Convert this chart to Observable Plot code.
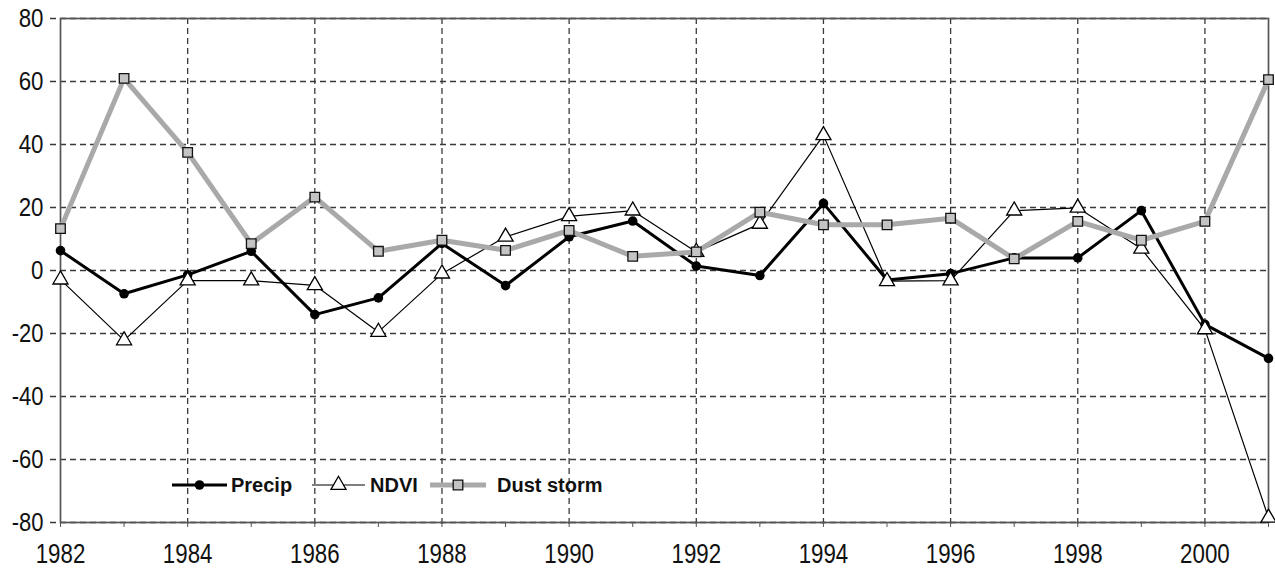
<!DOCTYPE html>
<html>
<head>
<meta charset="utf-8">
<script src="https://cdn.jsdelivr.net/npm/d3@7"></script>
<script src="https://cdn.jsdelivr.net/npm/@observablehq/plot@0.6"></script>
<style>
  body { margin: 0; background: #fff; }
  #chart { position: relative; width: 1275px; height: 569px; }
  #legend { position: absolute; left: 0; top: 0; pointer-events: none; }
</style>
</head>
<body>
<div id="chart"></div>
<script>
const years = [1982,1983,1984,1985,1986,1987,1988,1989,1990,1991,1992,1993,1994,1995,1996,1997,1998,1999,2000,2001];
const precip = [6.3,-7.4,-1.4,6.1,-14,-8.7,8.6,-4.8,10.7,15.7,1.4,-1.6,21.3,-3,-1,4,4,19,-17.1,-27.9];
const ndvi   = [-2.9,-22.2,-3.2,-3.2,-4.7,-19.5,-1,10.7,17.2,19,5.9,14.8,42.9,-3.4,-3.2,19,19.9,6.9,-18.7,-78.5];
const dust   = [13.3,61,37.5,8.5,23.3,6.1,9.6,6.4,12.7,4.5,5.9,18.5,14.5,14.5,16.6,3.7,15.6,9.6,15.6,60.6];
const seriesNames = ["Precip","NDVI","Dust storm"];
const xTickLabels = [1982,1984,1986,1988,1990,1992,1994,1996,1998,2000];
const yTicks = [-80,-60,-40,-20,0,20,40,60,80];

const rows = (vals) => years.map((y,i) => ({year: y, value: vals[i]}));
const P = rows(precip), N = rows(ndvi), D = rows(dust);

const gridColor = "#3a3a3a";
const tickFont = "'Liberation Sans Narrow','Arial Narrow','Liberation Sans',sans-serif";

const chart = Plot.plot({
  width: 1275,
  height: 569,
  marginLeft: 60,
  marginRight: 7,
  marginTop: 18,
  marginBottom: 47,
  style: {fontFamily: tickFont, background: "#fff", color: "#222"},
  x: {domain: [1982, 2001], axis: null},
  y: {domain: [-80, 80], axis: null},
  marks: [
    Plot.gridY(yTicks, {stroke: gridColor, strokeOpacity: 1, strokeDasharray: "6,4", strokeWidth: 1.3, insetLeft: -10}),
    Plot.gridX(xTickLabels.slice(1), {stroke: gridColor, strokeOpacity: 1, strokeDasharray: "6,4", strokeWidth: 1.3, insetBottom: -5}),
    Plot.frame({stroke: "#555", strokeWidth: 1.7}),
    Plot.axisX(years, {label: null, tickSize: 5, tickFormat: () => "", stroke: "#555"}),
    Plot.axisX(xTickLabels, {label: null, tickSize: 0, tickPadding: 21, tickFormat: d => String(d), fontSize: 27, fill: "#111"}),
    Plot.axisY(yTicks, {label: null, tickSize: 0, tickPadding: 17, tickFormat: d => String(d), fontSize: 26, fill: "#111"}),
    // Precip
    Plot.line(P, {x: "year", y: "value", stroke: "#000", strokeWidth: 3}),
    Plot.dot(P, {x: "year", y: "value", r: 4.8, fill: "#000", stroke: "none"}),
    // NDVI
    Plot.line(N, {x: "year", y: "value", stroke: "#000", strokeWidth: 1.2}),
    Plot.dot(N, {x: "year", y: "value", symbol: "triangle", r: 5.6, fill: "#fff", stroke: "#000", strokeWidth: 1.3}),
    // Dust storm
    Plot.line(D, {x: "year", y: "value", stroke: "#a9a9a9", strokeWidth: 5}),
    Plot.dot(D, {x: "year", y: "value", symbol: "square", r: 5.4, fill: "#c4c4c4", stroke: "#111", strokeWidth: 1.3})
  ]
});

const container = document.getElementById("chart");
container.appendChild(chart);

// Condense tick label glyphs to mimic the narrow font of the reference
d3.select(chart).selectAll("g[aria-label='x-axis tick label'] text, g[aria-label='y-axis tick label'] text").each(function() {
  const t = this.textContent;
  const w = this.getComputedTextLength();
  if (w > 0) {
    const target = t.replace(/[^0-9]/g, "").length * 12.4 + (t.includes("-") ? 7 : 0);
    this.setAttribute("textLength", target);
    this.setAttribute("lengthAdjust", "spacingAndGlyphs");
  }
});

// Legend overlay (inside plot area, as in the reference)
const leg = d3.select(container).append("svg")
  .attr("id", "legend").attr("width", 1275).attr("height", 569);
const ly = 485;
const items = [
  {name: seriesNames[0], x0: 172, x1: 227, stroke: "#000", sw: 3, sym: "circle", tx: 231},
  {name: seriesNames[1], x0: 312, x1: 365, stroke: "#000", sw: 1.2, sym: "triangle", tx: 370},
  {name: seriesNames[2], x0: 430, x1: 486, stroke: "#a9a9a9", sw: 5, sym: "square", tx: 497}
];
items.forEach(it => {
  const g = leg.append("g");
  g.append("line").attr("x1", it.x0).attr("x2", it.x1).attr("y1", ly).attr("y2", ly)
    .attr("stroke", it.stroke).attr("stroke-width", it.sw);
  const cx = (it.x0 + it.x1) / 2;
  if (it.sym === "circle") {
    g.append("circle").attr("cx", cx).attr("cy", ly).attr("r", 4.8).attr("fill", "#000");
  } else if (it.sym === "triangle") {
    g.append("path").attr("transform", `translate(${cx},${ly})`)
      .attr("d", d3.symbol(d3.symbolTriangle, 5.6*5.6*Math.PI)())
      .attr("fill", "#fff").attr("stroke", "#000").attr("stroke-width", 1.3);
  } else {
    g.append("path").attr("transform", `translate(${cx},${ly})`)
      .attr("d", d3.symbol(d3.symbolSquare, 5.4*5.4*Math.PI)())
      .attr("fill", "#c4c4c4").attr("stroke", "#111").attr("stroke-width", 1.3);
  }
  g.append("text").attr("x", it.tx).attr("y", ly).attr("dy", "0.35em")
    .attr("font-family", "'Liberation Sans',Arial,sans-serif").attr("font-weight", "bold")
    .attr("font-size", 20).attr("fill", "#111").text(it.name);
});
</script>
</body>
</html>
